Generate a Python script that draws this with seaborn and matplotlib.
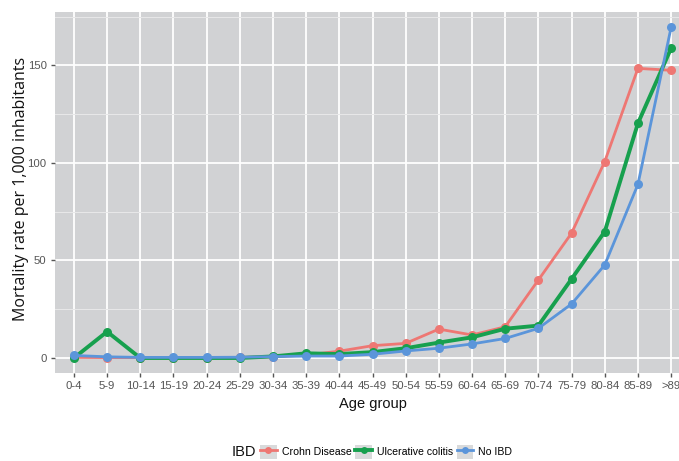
import matplotlib
matplotlib.use("Agg")
import matplotlib.pyplot as plt
from matplotlib.lines import Line2D
from matplotlib.patches import Rectangle
from matplotlib.legend_handler import HandlerTuple
import pandas as pd
import seaborn as sns

age_groups = ["0-4", "5-9", "10-14", "15-19", "20-24", "25-29", "30-34", "35-39",
              "40-44", "45-49", "50-54", "55-59", "60-64", "65-69", "70-74",
              "75-79", "80-84", "85-89", ">89"]

crohn = [0.3, 0.2, 0.2, 0.2, 0.2, 0.3, 0.6, 1.5, 3.5, 6.3, 7.5, 14.8, 11.8,
         16.0, 40.0, 64.0, 100.7, 148.5, 147.5]
ulcerative = [0.0, 13.5, 0.0, 0.0, 0.0, 0.0, 0.8, 2.4, 2.0, 3.0, 5.0, 7.9, 10.6,
              15.0, 16.6, 40.5, 64.8, 120.3, 158.8]
no_ibd = [1.3, 0.6, 0.3, 0.3, 0.3, 0.4, 0.7, 1.0, 1.0, 1.9, 3.6, 5.0, 7.2,
          10.0, 15.2, 27.7, 47.7, 89.0, 169.5]

series_names = ["Crohn Disease", "Ulcerative colitis", "No IBD"]
series_values = [crohn, ulcerative, no_ibd]
colors = ["#EE7773", "#17A04E", "#5B95DA"]
widths = [2.0, 2.8, 2.0]

W, H = 679, 461
fig = plt.figure(figsize=(W / 100, H / 100), dpi=100)
fig.patch.set_facecolor("white")
ax = fig.add_axes([55 / W, 1 - 373 / H, (691 - 55) / W, (373 - 12) / H])
ax.set_facecolor("#D1D2D4")

# Grid: major at ticks, thinner minor lines halfway between
ax.set_yticks([0, 50, 100, 150])
ax.set_yticks([25, 75, 125, 175], minor=True)
ax.grid(which="major", color="white", linewidth=1.3, zorder=0)
ax.grid(which="minor", axis="y", color="#E8E8E9", linewidth=0.7, zorder=0)
ax.set_axisbelow(True)

for name, vals, c, lw in zip(series_names, series_values, colors, widths):
    df = pd.DataFrame({"Age group": age_groups, "rate": vals})
    sns.lineplot(data=df, x="Age group", y="rate", ax=ax, color=c, linewidth=lw,
                 marker="o", markersize=6.5, markeredgewidth=0, sort=False,
                 zorder=3 if name != "No IBD" else 4)

ax.set_xlim(-0.57, 18.6)
ax.set_ylim(-7.7, 177.4)
ax.set_xticks(range(len(age_groups)))
ax.set_xticklabels(age_groups)

tick_font = ["Liberation Sans", "DejaVu Sans"]
for lab in ax.get_xticklabels() + ax.get_yticklabels():
    lab.set_family(tick_font)
    lab.set_fontsize(8.2)
    lab.set_color("#555555")
ax.tick_params(axis="both", which="major", length=3, width=1, color="#555555", pad=3)
ax.tick_params(axis="y", which="minor", length=0)
for s in ax.spines.values():
    s.set_visible(False)

ax.set_xlabel("Age group", fontsize=10.5, family=["Liberation Sans", "DejaVu Sans"],
              color="#111111", labelpad=4)
ax.set_ylabel("")
fig.text(21 / W, 1 - 189 / H, "Mortality rate per 1,000 inhabitants", rotation=90,
         ha="center", va="center", fontsize=11.5, family=["Open Sans", "DejaVu Sans"],
         color="#111111")

# Legend with grey key boxes
handles = []
for c, lw in zip(colors, widths):
    bg = Rectangle((0, 0), 1, 1, facecolor="#D9DADB", edgecolor="none")
    ln = Line2D([], [], color=c, linewidth=lw, marker="o", markersize=5, markeredgewidth=0)
    handles.append((bg, ln))
fig.text(232 / W, 1 - 452 / H, "IBD", ha="left", va="center", fontsize=10.5,
         family=["Liberation Sans", "DejaVu Sans"], color="#111111")
leg = fig.legend(handles, series_names, loc="center left",
                 bbox_to_anchor=(260 / W, 1 - 452 / H), ncol=3, frameon=False,
                 handler_map={tuple: HandlerTuple(ndivide=1)},
                 handlelength=1.6, handleheight=1.8, handletextpad=0.45,
                 columnspacing=0.35, borderpad=0, borderaxespad=0,
                 prop={"family": ["Liberation Sans", "DejaVu Sans"], "size": 7.6})

fig.savefig("out.png", dpi=100)
